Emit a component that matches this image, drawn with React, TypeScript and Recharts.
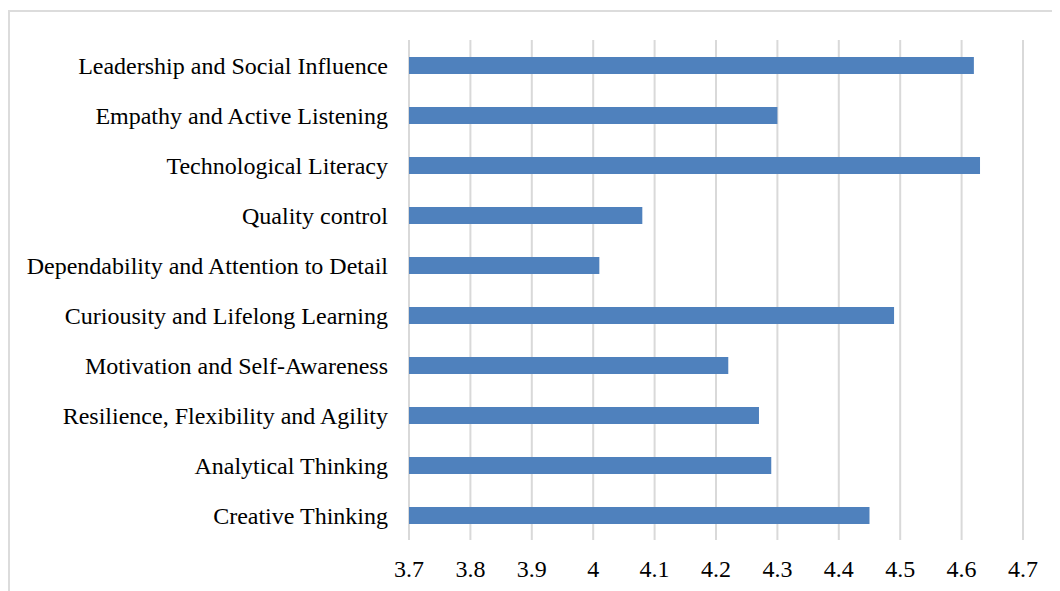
import React from 'react';
import { BarChart, Bar, XAxis, YAxis, CartesianGrid } from 'recharts';

const categories = [
  'Leadership and Social Influence',
  'Empathy and Active Listening',
  'Technological Literacy',
  'Quality control',
  'Dependability and Attention to Detail',
  'Curiousity and Lifelong Learning',
  'Motivation and Self-Awareness',
  'Resilience, Flexibility and Agility',
  'Analytical Thinking',
  'Creative Thinking',
];
const values = [4.62, 4.3, 4.63, 4.08, 4.01, 4.49, 4.22, 4.27, 4.29, 4.45];
const xTicks = [3.7, 3.8, 3.9, 4.0, 4.1, 4.2, 4.3, 4.4, 4.5, 4.6, 4.7];

const data = categories.map((name, i) => ({ name, value: values[i] }));

const font = '"Liberation Serif", "Times New Roman", serif';

export default function App() {
  return (
    <div style={{ position: 'relative', width: 1052, height: 583, overflow: 'hidden', background: '#fff' }}>
      <div
        style={{
          position: 'absolute',
          left: 0,
          top: 2,
          width: 1200,
          height: 800,
          border: '2px solid #dcdcdc',
          boxSizing: 'border-box',
        }}
      />
      <div style={{ position: 'absolute', left: 0, top: 0 }}>
        <BarChart
          width={1052}
          height={583}
          data={data}
          layout="vertical"
          margin={{ top: 32, right: 37, bottom: 21, left: 0 }}
        >
          <CartesianGrid horizontal={false} vertical={true} stroke="#d9d9d9" strokeWidth={2} />
          <XAxis
            type="number"
            domain={[3.7, 4.7]}
            ticks={xTicks}
            interval={0}
            axisLine={false}
            tickLine={false}
            tickSize={0}
            tickMargin={20}
            height={30}
            tickFormatter={(v: number) => String(Math.round(v * 10) / 10)}
            tick={{ fill: '#000', fontSize: 24, fontFamily: font }}
            allowDataOverflow
          />
          <YAxis
            type="category"
            dataKey="name"
            width={401}
            axisLine={false}
            tickLine={false}
            tickSize={0}
            tickMargin={21}
            interval={0}
            tick={{ fill: '#000', fontSize: 24, fontFamily: font }}
          />
          <Bar dataKey="value" fill="#4F81BD" barSize={17} isAnimationActive={false} />
        </BarChart>
      </div>
    </div>
  );
}
